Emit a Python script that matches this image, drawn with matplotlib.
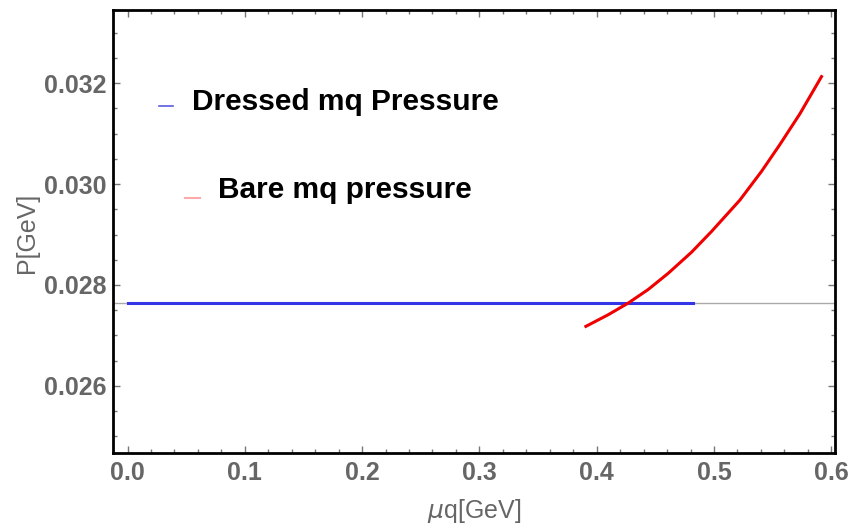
import matplotlib
matplotlib.use("Agg")
import matplotlib.pyplot as plt
from matplotlib.ticker import MultipleLocator

# dressed quark mass pressure (flat)
dressed_mu = [0.0, 0.482]
dressed_p = [0.02764, 0.02764]

# bare quark mass pressure
bare_mu = [0.3908, 0.4098, 0.4268, 0.4439, 0.4609, 0.4809, 0.4979,
           0.5220, 0.5405, 0.5561, 0.5732, 0.5917]
bare_p = [0.02718, 0.02741, 0.02764, 0.02791, 0.02823, 0.02865, 0.02906,
          0.02968, 0.03025, 0.03078, 0.03139, 0.03213]

axis_origin = 0.02764
x_ticks = [0.0, 0.1, 0.2, 0.3, 0.4, 0.5, 0.6]
y_ticks = [0.026, 0.028, 0.030, 0.032]

plt.rcParams['font.family'] = ['Liberation Sans', 'DejaVu Sans']
gray = '#666666'

fig = plt.figure(figsize=(8.53, 5.28), dpi=100)
ax = fig.add_axes([113/853, 1-453/528, 722/853, 443/528])

ax.axhline(axis_origin, color='#aaaaaa', lw=1.0, zorder=1)
ax.plot(dressed_mu, dressed_p, color='#3535e8', lw=2.2, zorder=3)
ax.plot(bare_mu, bare_p, color='#f00000', lw=2.2, zorder=4)

ax.set_xlim(-0.0124, 0.6032)
ax.set_ylim(0.02467, 0.03345)
ax.set_xticks(x_ticks)
ax.set_xticklabels(['%.1f' % v for v in x_ticks])
ax.set_yticks(y_ticks)
ax.set_yticklabels(['%.3f' % v for v in y_ticks])
ax.xaxis.set_minor_locator(MultipleLocator(0.02))
ax.yaxis.set_minor_locator(MultipleLocator(0.0005))

ax.tick_params(which='both', direction='in', top=True, right=True,
               color='#777777', width=1.0)
ax.tick_params(which='major', length=5)
ax.tick_params(which='minor', length=3)
ax.tick_params(axis='x', which='major', pad=6)
ax.tick_params(axis='y', which='major', pad=5)
for lab in ax.get_xticklabels() + ax.get_yticklabels():
    lab.set_fontsize(18)
    lab.set_fontweight('bold')
    lab.set_color(gray)

for s in ax.spines.values():
    s.set_linewidth(2.0)
    s.set_color('black')

fig.text(27/853, 1-233/528, 'P[GeV]', rotation=90, ha='center', va='center',
         fontsize=18, color=gray)
fig.text(474/853, 1-511/528, r'$\mathit{\mu}$q[GeV]', ha='center', va='center',
         fontsize=18, color=gray)

# legend drawn by hand, Mathematica style
ax.plot([0.0637, 0.0831], [0.783, 0.783], transform=ax.transAxes,
        color='#5a5ae0', lw=1.2)
ax.text(0.1094, 0.774, 'Dressed mq Pressure', transform=ax.transAxes,
        fontsize=21.5, fontweight='bold', color='black', va='baseline')
ax.plot([0.0997, 0.1205], [0.5756, 0.5756], transform=ax.transAxes,
        color='#ffaaaa', lw=1.5)
ax.text(0.1454, 0.5756, 'Bare mq pressure', transform=ax.transAxes,
        fontsize=21.5, fontweight='bold', color='black', va='baseline')

fig.savefig('out.png', dpi=100)
